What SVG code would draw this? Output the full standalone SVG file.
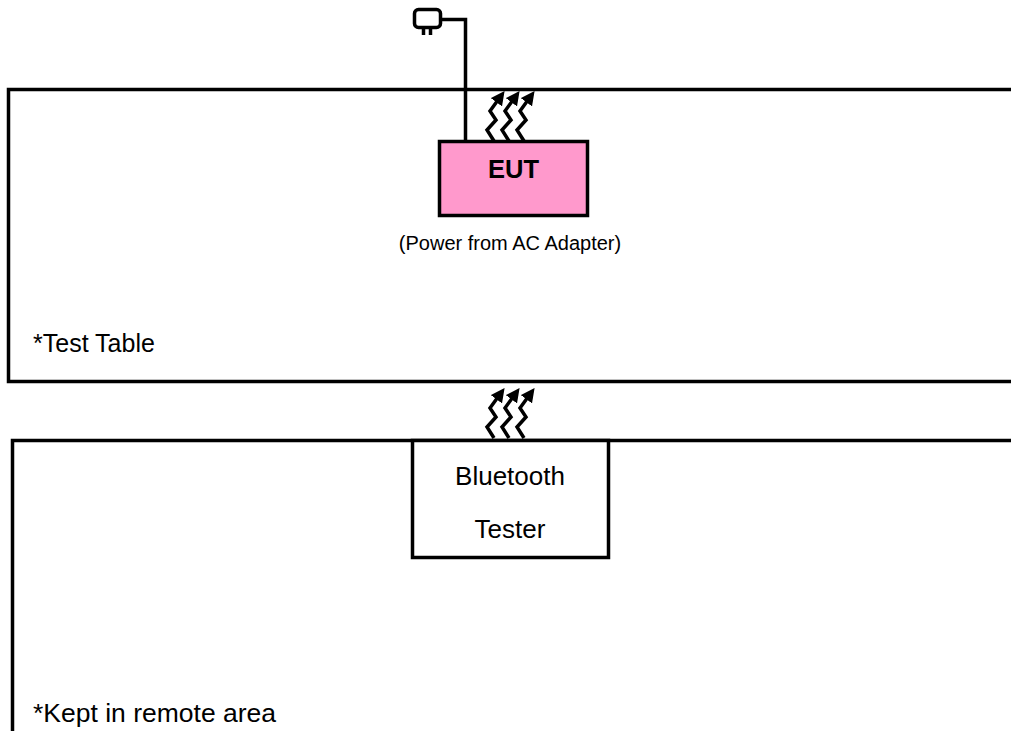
<svg xmlns="http://www.w3.org/2000/svg" xmlns:xlink="http://www.w3.org/1999/xlink" width="1011" height="731" viewBox="0 0 1011 731">
<style>
.ln{fill:none;stroke:#000;stroke-width:3.5}
.wv{fill:none;stroke:#000;stroke-width:3.5;stroke-linejoin:miter}
.t{font-family:"Liberation Sans",Arial,sans-serif;fill:#000}
</style>
<defs>
<marker id="ah" viewBox="0 0 10 10" refX="2" refY="5" markerWidth="4" markerHeight="4" orient="auto" markerUnits="strokeWidth">
<path d="M0,0 L10,5 L0,10 z" fill="#000"/>
</marker>
<g id="waves">
<path class="wv" d="M494,141 L487,130 L496,120 L490,111 L498,100" marker-end="url(#ah)"/>
<path class="wv" d="M509,141 L502,130 L511,120 L505,111 L513,100" marker-end="url(#ah)"/>
<path class="wv" d="M524,141 L517,130 L526,120 L520,111 L528,100" marker-end="url(#ah)"/>
</g>
</defs>
<rect width="1011" height="731" fill="#fff"/>
<g id="test-table">
<rect class="ln" x="8.5" y="89.5" width="1020" height="292"/>
<text class="t" x="33" y="352" font-size="25">*Test Table</text>
</g>
<g id="remote-area">
<rect class="ln" x="12.5" y="440.5" width="1020" height="320"/>
<text class="t" x="33" y="722" font-size="26.5">*Kept in remote area</text>
</g>
<g id="plug">
<rect class="ln" x="414.5" y="9.5" width="26" height="18" rx="4"/>
<line class="ln" x1="423.5" y1="28" x2="423.5" y2="35"/>
<line class="ln" x1="430.5" y1="28" x2="430.5" y2="35"/>
</g>
<g id="connectors">
<path class="ln" d="M441,19.5 H465.5 V141"/>
<use xlink:href="#waves"/>
<use xlink:href="#waves" transform="translate(0,297)"/>
</g>
<g id="eut">
<rect x="439.5" y="141.5" width="148" height="74" fill="#FF99CC" stroke="#000" stroke-width="3.5"/>
<text class="t" x="513.5" y="178" font-size="25.5" font-weight="bold" text-anchor="middle">EUT</text>
<text class="t" x="510" y="250" font-size="20" text-anchor="middle">(Power from AC Adapter)</text>
</g>
<g id="bluetooth-tester">
<rect x="412.5" y="440.5" width="196" height="117" fill="#fff" stroke="#000" stroke-width="3.5"/>
<text class="t" x="510" y="485" font-size="26" text-anchor="middle">Bluetooth</text>
<text class="t" x="510" y="538" font-size="26" text-anchor="middle">Tester</text>
</g>
</svg>
